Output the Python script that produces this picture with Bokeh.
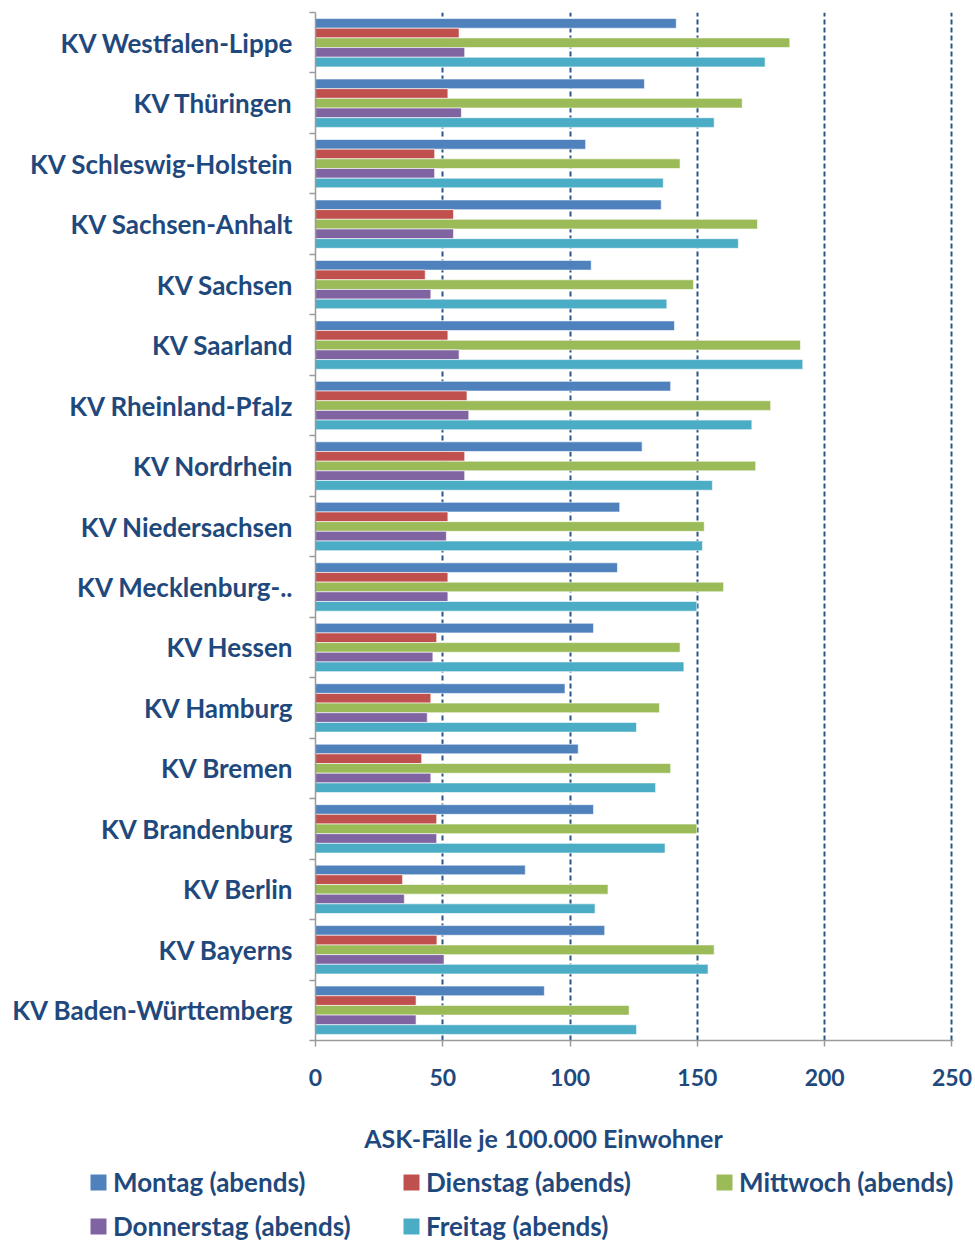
import numpy as np
from bokeh.plotting import figure
from bokeh.layouts import column
from bokeh.models import FixedTicker, Legend, LegendItem, Range1d, Label
from bokeh.embed import file_html
from bokeh.resources import INLINE

regions = ["KV Baden-Württemberg", "KV Bayerns", "KV Berlin", "KV Brandenburg",
           "KV Bremen", "KV Hamburg", "KV Hessen", "KV Mecklenburg-..",
           "KV Niedersachsen", "KV Nordrhein", "KV Rheinland-Pfalz", "KV Saarland",
           "KV Sachsen", "KV Sachsen-Anhalt", "KV Schleswig-Holstein",
           "KV Thüringen", "KV Westfalen-Lippe"]
montag = [89.9, 113.6, 82.4, 109.2, 103.2, 98.0, 109.2, 118.6, 119.5, 128.3,
          139.5, 141.0, 108.3, 135.8, 106.1, 129.2, 141.7]
dienstag = [39.5, 47.7, 34.2, 47.6, 41.7, 45.3, 47.6, 52.0, 52.0, 58.6,
            59.5, 52.0, 43.1, 54.2, 46.8, 52.0, 56.4]
mittwoch = [123.2, 156.6, 114.9, 149.8, 139.5, 135.1, 143.2, 160.3, 152.7, 172.9,
            178.8, 190.5, 148.5, 173.6, 143.2, 167.6, 186.3]
donnerstag = [39.5, 50.5, 34.9, 47.6, 45.3, 43.9, 46.1, 52.0, 51.4, 58.6,
              60.2, 56.4, 45.3, 54.2, 46.8, 57.3, 58.6]
freitag = [126.1, 154.2, 109.8, 137.3, 133.6, 126.1, 144.7, 149.8, 152.0, 155.9,
           171.4, 191.4, 138.0, 166.1, 136.6, 156.6, 176.6]
series_names = ["Montag (abends)", "Dienstag (abends)", "Mittwoch (abends)",
                "Donnerstag (abends)", "Freitag (abends)"]
x_ticks = [0, 50, 100, 150, 200, 250]
x_title = "ASK-Fälle je 100.000 Einwohner"

colors = ["#4F81BD", "#C0504D", "#9BBB59", "#8064A2", "#4BACC6"]
TXT = "#1F497D"
FONT = "Lato"

n = len(regions)
centers = np.arange(n) + 0.5
bar_h = 0.16
offsets = [0.32, 0.16, 0.0, -0.16, -0.32]
values = [montag, dienstag, mittwoch, donnerstag, freitag]

p = figure(width=975, height=1100, output_backend="svg", toolbar_location=None,
           x_range=Range1d(0, 250.6), y_range=Range1d(0, n),
           min_border_left=315, min_border_right=22, min_border_top=12,
           min_border_bottom=60)
p.outline_line_color = None
p.background_fill_color = "white"

renderers = []
for vals, off, col in zip(values, offsets, colors):
    r = p.hbar(y=centers + off, right=vals, left=0, height=bar_h,
               fill_color=col, line_color="white", line_alpha=0.6, line_width=1)
    renderers.append(r)

# x axis
p.xaxis.ticker = FixedTicker(ticks=x_ticks)
p.xaxis.axis_line_color = "#9A9A9A"
p.xaxis.axis_line_width = 1.5
p.xaxis.major_tick_line_color = "#9A9A9A"
p.xaxis.major_tick_line_width = 1.5
p.xaxis.major_tick_out = 6
p.xaxis.major_tick_in = 0
p.xaxis.minor_tick_line_color = None
p.xaxis.major_label_standoff = 22
p.xaxis.major_label_text_font = FONT
p.xaxis.major_label_text_font_style = "bold"
p.xaxis.major_label_text_font_size = "23px"
p.xaxis.major_label_text_color = TXT

# y axis
p.yaxis.ticker = FixedTicker(ticks=list(centers), minor_ticks=list(range(n + 1)))
p.yaxis.major_label_overrides = {float(c): name for c, name in zip(centers, regions)}
p.yaxis.axis_line_color = "#9A9A9A"
p.yaxis.axis_line_width = 1.5
p.yaxis.major_tick_line_color = None
p.yaxis.major_tick_out = 0
p.yaxis.major_tick_in = 0
p.yaxis.minor_tick_line_color = "#9A9A9A"
p.yaxis.minor_tick_line_width = 1.5
p.yaxis.minor_tick_out = 6
p.yaxis.minor_tick_in = 0
p.yaxis.major_label_standoff = 16
p.yaxis.major_label_text_font = FONT
p.yaxis.major_label_text_font_style = "bold"
p.yaxis.major_label_text_font_size = "26px"
p.yaxis.major_label_text_color = TXT

# grid
p.ygrid.grid_line_color = None
p.xgrid.ticker = FixedTicker(ticks=x_ticks[1:])
p.xgrid.grid_line_color = "#2C5486"
p.xgrid.grid_line_width = 2
p.xgrid.grid_line_dash = "5 3"

# strip below the chart: axis title and legend
LG_H = 142
lg = figure(width=975, height=LG_H, output_backend="svg", toolbar_location=None,
            x_range=Range1d(0, 975), y_range=Range1d(0, LG_H),
            x_axis_location=None, y_axis_location=None,
            min_border_left=0, min_border_right=0, min_border_top=0, min_border_bottom=0)
try:
    lg.frame_align = False
except Exception:
    pass
lg.outline_line_color = None
lg.xgrid.visible = False
lg.ygrid.visible = False

lg.add_layout(Label(x=543, y=LG_H - 37, text=x_title, text_align="center",
                    text_baseline="middle", text_font=FONT, text_font_style="bold",
                    text_font_size="25px", text_color=TXT))

dummies = [lg.hbar(y=[-50], right=[1], left=0, height=1, fill_color=c, line_color=None)
           for c in colors]

legend = Legend(items=[LegendItem(label=nm, renderers=[r]) for nm, r in zip(series_names, dummies)],
                location=(88, 0), orientation="horizontal", ncols=3,
                glyph_width=20, glyph_height=20, label_standoff=5, label_width=276,
                label_height=28, spacing=12, padding=0, margin=0,
                border_line_color=None, background_fill_alpha=0,
                label_text_font=FONT, label_text_font_style="bold",
                label_text_font_size="26px", label_text_color=TXT)
lg.add_layout(legend, "center")

layout = column(p, lg, spacing=0)
open("out.html", "w").write(file_html(layout, INLINE))
